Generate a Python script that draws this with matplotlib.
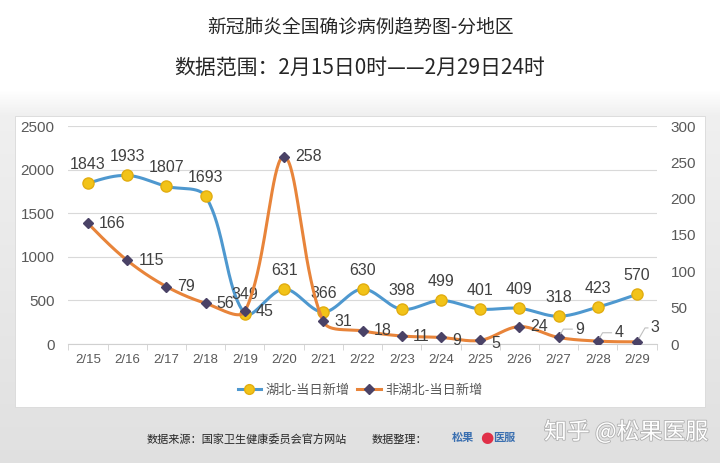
import numpy as np
import matplotlib
matplotlib.use("Agg")
import matplotlib.pyplot as plt
from matplotlib import font_manager
import matplotlib.patheffects as pe
from matplotlib.patches import Rectangle
from matplotlib.lines import Line2D

plt.rcParams['font.family'] = ['Noto Sans CJK SC', 'DejaVu Sans']

dates = ["2/15", "2/16", "2/17", "2/18", "2/19", "2/20", "2/21", "2/22",
         "2/23", "2/24", "2/25", "2/26", "2/27", "2/28", "2/29"]
hubei = [1843, 1933, 1807, 1693, 349, 631, 366, 630, 398, 499, 401, 409, 318, 423, 570]
non_hubei = [166, 115, 79, 56, 45, 258, 31, 18, 11, 9, 5, 24, 9, 4, 3]
left_ticks = [0, 500, 1000, 1500, 2000, 2500]
right_ticks = [0, 50, 100, 150, 200, 250, 300]

title1 = "新冠肺炎全国确诊病例趋势图-分地区"
title2 = "数据范围：2月15日0时——2月29日24时"
legend_labels = ["湖北-当日新增", "非湖北-当日新增"]
footer = "数据来源：国家卫生健康委员会官方网站"
footer2 = "数据整理："
watermark = "知乎 @松果医服"

names = {f.name for f in font_manager.fontManager.ttflist}
num_font = "Liberation Sans Narrow" if "Liberation Sans Narrow" in names else "Liberation Sans"


def smooth(x, y, sx, sy, tension=0.5, n=40):
    """Excel-like smoothing: Bezier with tangents weighted by pixel chord lengths."""
    P = np.column_stack([np.asarray(x, float) * sx, np.asarray(y, float) * sy])
    m = len(P)
    d = np.linalg.norm(np.diff(P, axis=0), axis=1)
    cout = P.copy()
    cin = P.copy()
    for i in range(1, m - 1):
        T = P[i + 1] - P[i - 1]
        tot = d[i - 1] + d[i]
        cout[i] = P[i] + T * tension * d[i] / tot * 0.67
        cin[i] = P[i] - T * tension * d[i - 1] / tot * 0.67
    # end points
    cout[0] = P[0] + (cin[1] - P[0]) / 2
    cin[-1] = P[-1] + (cout[-2] - P[-1]) / 2
    t = np.linspace(0, 1, n)[:, None]
    pts = []
    for i in range(m - 1):
        p0, p1, p2, p3 = P[i], cout[i], cin[i + 1], P[i + 1]
        b = (1 - t) ** 3 * p0 + 3 * (1 - t) ** 2 * t * p1 + 3 * (1 - t) * t ** 2 * p2 + t ** 3 * p3
        pts.append(b)
    B = np.vstack(pts)
    return B[:, 0] / sx, B[:, 1] / sy


fig = plt.figure(figsize=(7.2, 4.63), dpi=100)

# background gradient
bg = fig.add_axes([0, 0, 1, 1], zorder=-10)
bg.set_axis_off()
H = 463
rows = np.zeros((H, 1))
for r in range(H):
    if r < 90:
        v = 1.0
    elif r < 115:
        v = 1.0 - (r - 90) / 25 * 0.06
    else:
        v = 0.94 - (r - 115) / (H - 115) * 0.06
    rows[r, 0] = v
grad = np.repeat(rows, 3, axis=1)[:, None, :]
bg.imshow(grad, aspect='auto', extent=[0, 1, 0, 1], origin='upper')
bg.set_xlim(0, 1)
bg.set_ylim(0, 1)
bg.add_patch(Rectangle((15 / 720, 1 - 407 / 463), 690 / 720, (407 - 116) / 463,
                       facecolor='white', edgecolor='#d9d9d9', linewidth=0.6))

ax = fig.add_axes([68.4 / 720, 1 - 344 / 463, (656.6 - 68.4) / 720, 218 / 463])
ax2 = ax.twinx()
x = np.arange(len(dates))

ax.set_xlim(-0.5, len(dates) - 0.5)
ax.set_ylim(0, 2500)
ax2.set_ylim(0, 300)
ax.set_yticks(left_ticks)
ax2.set_yticks(right_ticks)
ax.set_xticks(x)
ax.set_xticklabels(dates)
ax.set_xticks(np.arange(-0.5, len(dates), 1), minor=True)
ax.tick_params(axis='x', which='major', length=0, pad=7, labelsize=9.5, labelcolor='#595959')
ax.tick_params(axis='x', which='minor', length=4, color='#d0d0d0', direction='out')
ax.tick_params(axis='y', length=0, pad=10, labelsize=11, labelcolor='#595959')
ax2.tick_params(axis='y', length=0, pad=10, labelsize=11, labelcolor='#595959')
for lbl in ax.get_xticklabels() + ax.get_yticklabels() + ax2.get_yticklabels():
    lbl.set_fontfamily(num_font)
for a in (ax, ax2):
    for s in a.spines.values():
        s.set_visible(False)
ax.spines['bottom'].set_visible(True)
ax.spines['bottom'].set_color('#d0d0d0')
ax.grid(axis='y', color='#d9d9d9', linewidth=0.8)
ax.set_axisbelow(True)
ax.patch.set_alpha(0)

blue = '#4e98cf'
orange = '#e8843a'
px_per_x = 39.2
sx, sy = smooth(x, hubei, px_per_x, 218 / 2500)
ax.plot(sx, sy, color=blue, lw=2.2, zorder=3)
ox, oy = smooth(x, non_hubei, px_per_x, 218 / 300)
ax2.plot(ox, oy, color=orange, lw=2.2, zorder=3)
ax.plot(x, hubei, ls='none', marker='o', ms=8, mfc='#f2c318', mec='#e2ad10', mew=1, zorder=4)
ax2.plot(x, non_hubei, ls='none', marker='D', ms=5.5, mfc='#4a4266', mec='#4a4266', zorder=5)

lab_kw = dict(fontsize=11.5, color='#404040', fontfamily='Liberation Sans')
for xi, v in zip(x, hubei):
    ax.annotate(str(v), (xi, v), xytext=(0, 8), textcoords='offset points',
                ha='center', va='bottom', zorder=6, **lab_kw)
for i, (xi, v) in enumerate(zip(x, non_hubei)):
    if i in (12, 13, 14):
        dx, dy = (12, 6) if i != 14 else (10, 10)
        ax2.annotate(str(v), (xi, v), xytext=(dx, dy), textcoords='offset points',
                     ha='left', va='center', zorder=6,
                     arrowprops=dict(arrowstyle='-', color='#bfbfbf', lw=0.8,
                                     shrinkA=0, shrinkB=3,
                                     connectionstyle='angle,angleA=0,angleB=60,rad=0'),
                     **lab_kw)
    else:
        dy = -2 if i in (9, 10) else 0
        ax2.annotate(str(v), (xi, v), xytext=(8, dy), textcoords='offset points',
                     ha='left', va='center', zorder=6, **lab_kw)

h1 = Line2D([], [], color=blue, lw=2.2, marker='o', ms=7, mfc='#f2c318', mec='#e2ad10')
h2 = Line2D([], [], color=orange, lw=2.2, marker='D', ms=5, mfc='#4a4266', mec='#4a4266')
fig.legend([h1, h2], legend_labels, loc='center', bbox_to_anchor=(0.5, 1 - 390 / 463),
           ncol=2, frameon=False, fontsize=9.5, handlelength=1.8, handletextpad=0.3,
           columnspacing=0.6, labelcolor='#595959')

fig.text(0.5, 1 - 27 / 463, title1, ha='center', va='center', fontsize=13.5, color='#262626')
fig.text(0.5, 1 - 68 / 463, title2, ha='center', va='center', fontsize=15, color='#262626')

fig.text(147 / 720, 1 - 440 / 463, footer, ha='left', va='center', fontsize=8, color='#262626')
fig.text(372 / 720, 1 - 440 / 463, footer2, ha='left', va='center', fontsize=8, color='#262626')
fig.text(452 / 720, 1 - 437 / 463, "松果", ha='left', va='center', fontsize=8, color='#3a6fb0',
         fontweight='bold')
fig.text(480 / 720, 1 - 437 / 463, "●", ha='left', va='center', fontsize=11, color='#e03048',
         family='DejaVu Sans')
fig.text(493 / 720, 1 - 437 / 463, "医服", ha='left', va='center', fontsize=8, color='#3a6fb0',
         fontweight='bold')
fig.text(626 / 720, 1 - 432 / 463, watermark, ha='center', va='center', fontsize=16.5, color='white',
         path_effects=[pe.withStroke(linewidth=1.2, foreground='#b0b0b0')])

fig.savefig("out.png", dpi=100)
